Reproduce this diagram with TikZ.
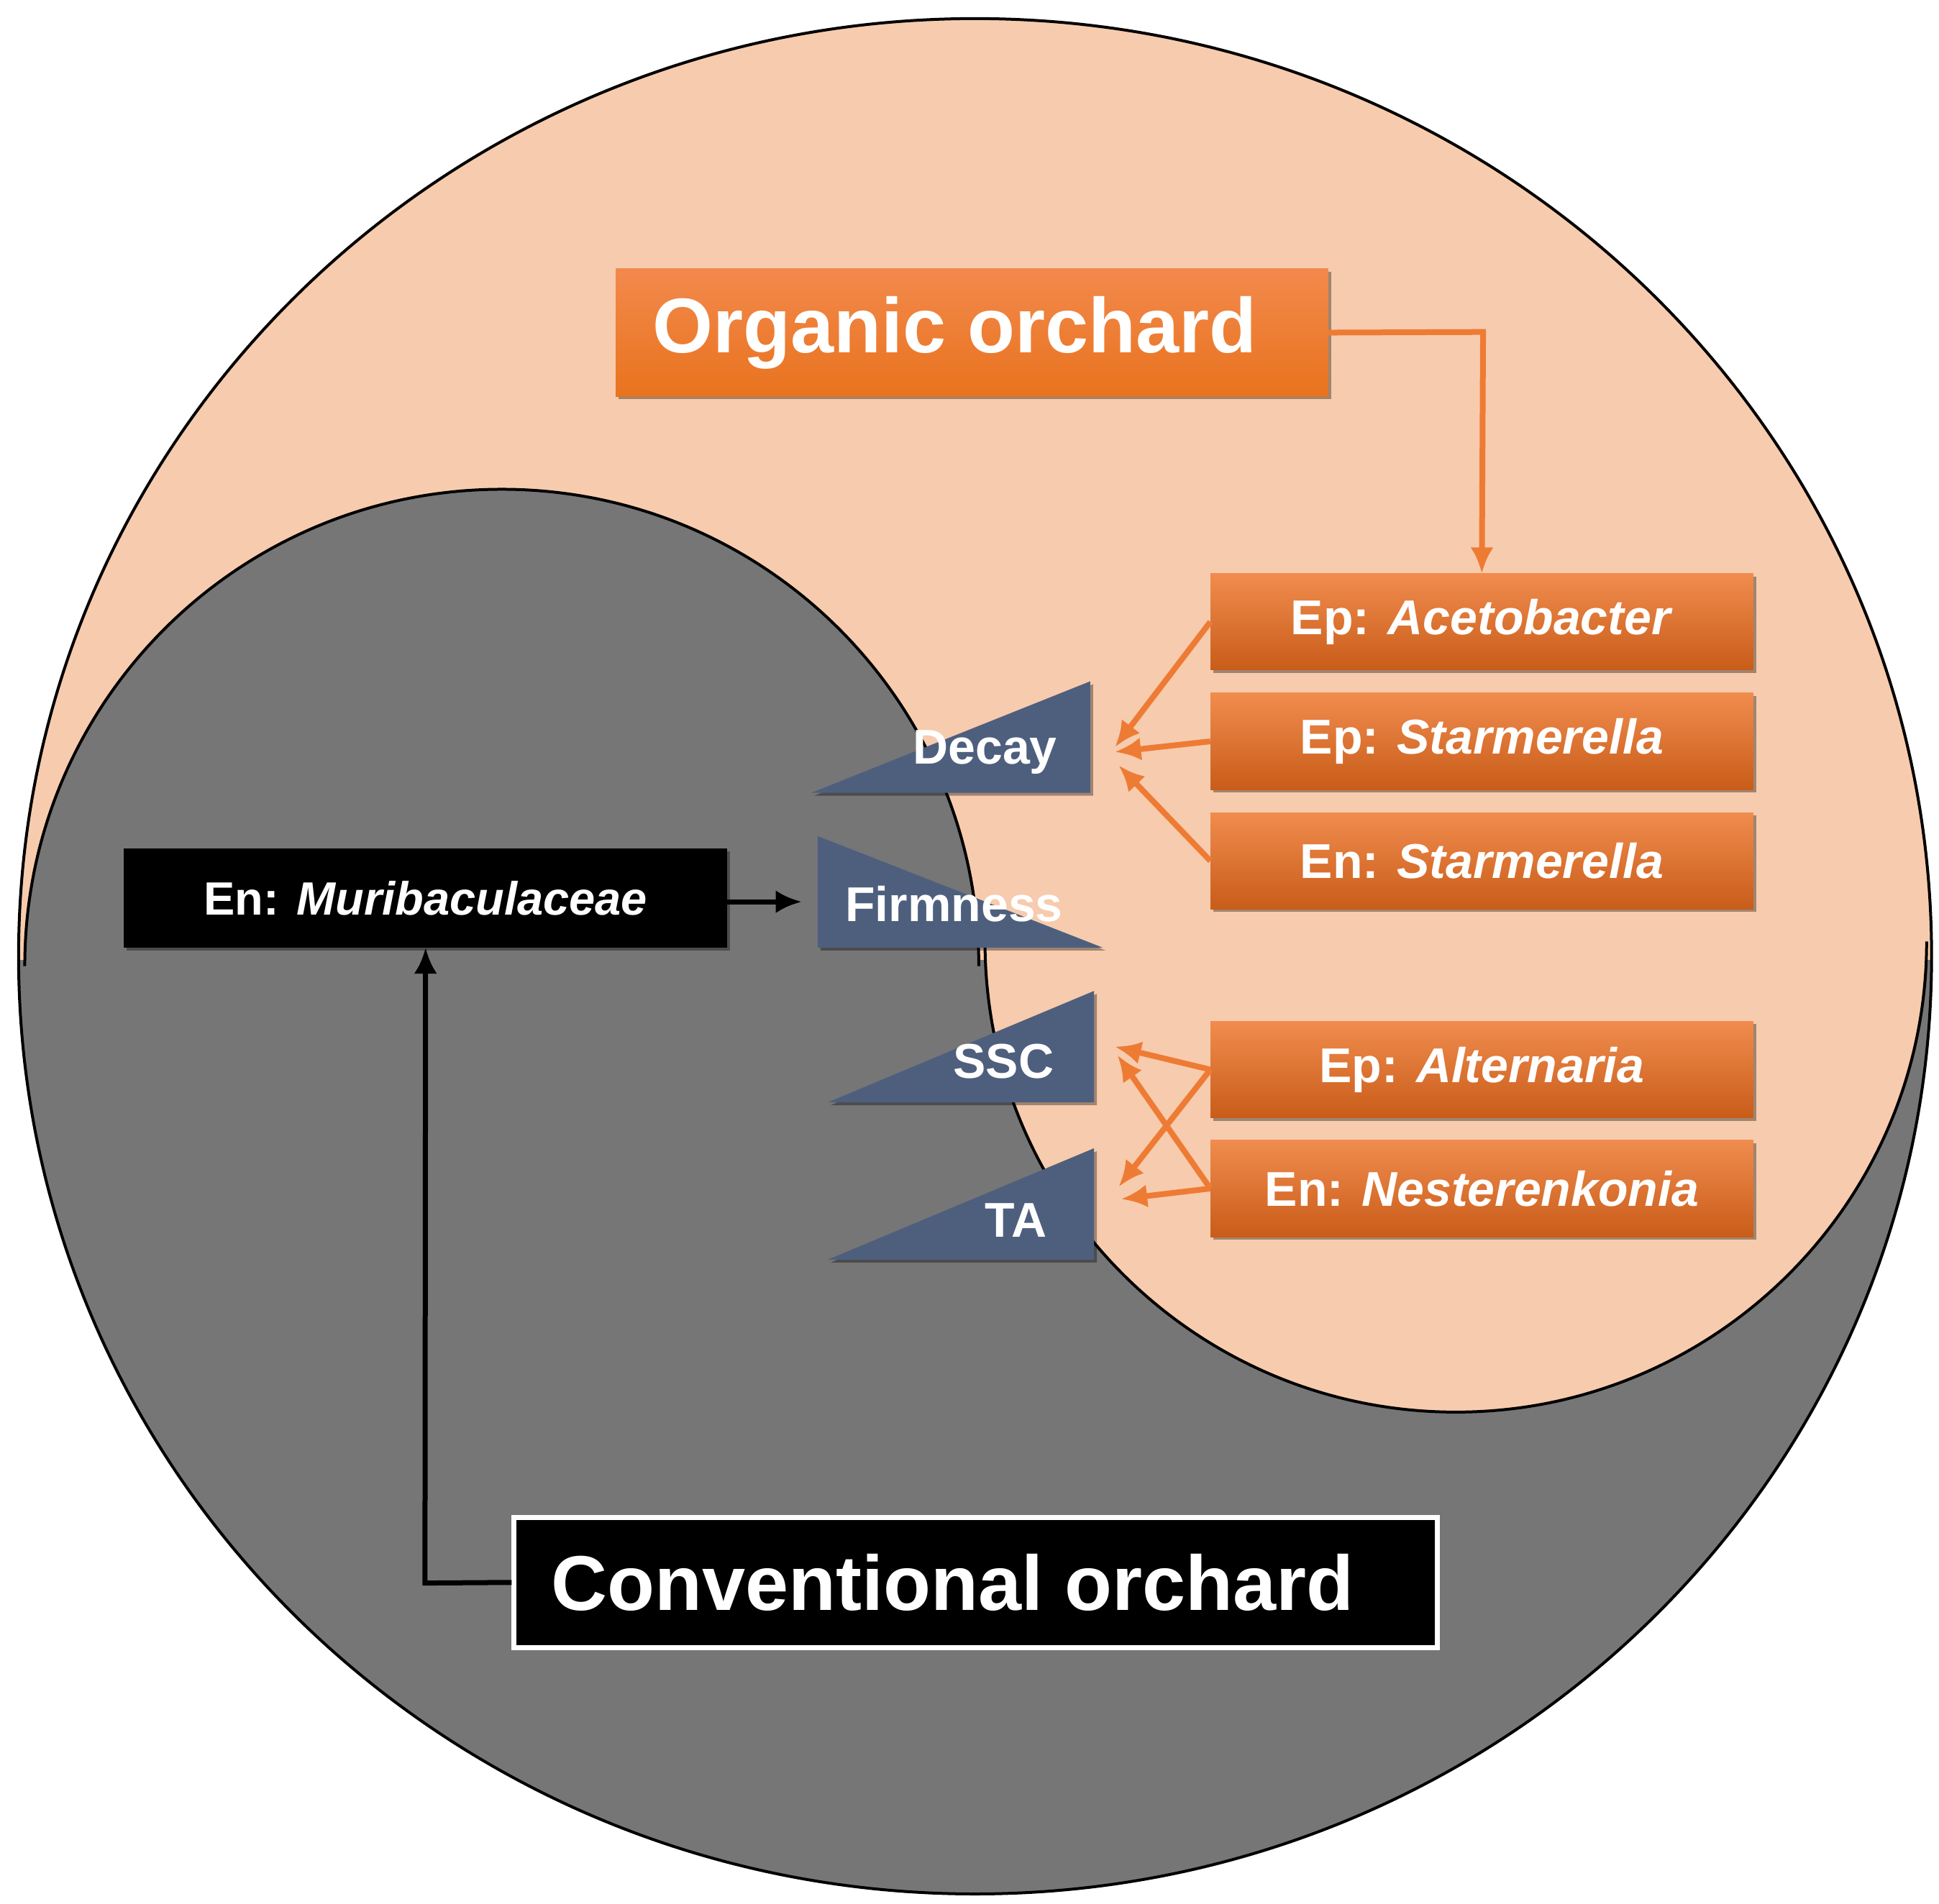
\documentclass[tikz,border=0pt]{standalone}
\usepackage{fontspec}
\setmainfont{Liberation Sans}
\usetikzlibrary{arrows.meta,shadows}
\definecolor{peach}{HTML}{F7CBAD}
\definecolor{gry}{HTML}{767676}
\definecolor{tri}{HTML}{4E5F7E}
\definecolor{orA}{HTML}{F2894C}
\definecolor{orB}{HTML}{E9731E}
\definecolor{orC}{HTML}{F08C4E}
\definecolor{orD}{HTML}{C95C19}
\definecolor{orL}{HTML}{EE7B34}
\tikzset{
 shad/.style={drop shadow={shadow xshift=4pt,shadow yshift=-4pt,opacity=0.35,fill=black}},
 big/.style={font=\fontsize{108}{120}\selectfont\bfseries, text=white, inner sep=0pt, shad},
 sp/.style={minimum width=438*1.723pt, minimum height=78*1.723pt, top color=orC, bottom color=orD, font=\fontsize{68}{74}\selectfont\bfseries, text=white, inner sep=0pt, shad},
 lab/.style={font=\fontsize{68}{74}\selectfont\bfseries, text=white},
 oarr/.style={draw=orL, line width=8pt, -{Latex[length=36pt,width=32pt]}},
 barr/.style={draw=black, line width=7pt, -{Latex[length=36pt,width=32pt]}},
}
\begin{document}
\begin{tikzpicture}[x=1.723pt,y=-1.723pt]
\useasboundingbox (0,0) rectangle (1565,1537);
\begin{scope}
\clip (787,772) ellipse [x radius=772, y radius=757];
\fill[gry] (0,0) rectangle (1565,1537);
\fill[peach] (0,0) rectangle (1565,775);
\fill[gry] (405,780) circle [radius=385];
\fill[peach] (1175,760) circle [radius=380];
\draw[line width=4pt] (20,780) arc [start angle=180, end angle=360, radius=385];
\draw[line width=4pt] (795,760) arc [start angle=180, end angle=0, radius=380];
\end{scope}
\draw[line width=4pt] (787,772) ellipse [x radius=772, y radius=757];

% triangles
\fill[tri,shad] (655,640) -- (880,550) -- (880,640) -- cycle;
\fill[tri,shad] (660,675) -- (660,765) -- (890,765) -- cycle;
\fill[tri,shad] (668,890) -- (883,800) -- (883,890) -- cycle;
\fill[tri,shad] (668,1017) -- (883,927) -- (883,1017) -- cycle;
\node[lab] (decay) at (795,607) {Decay};
\node[lab] (firm) at (770,730) {Firmness};
\node[lab] (ssc) at (810,857) {SSC};
\node[lab] (ta) at (820,985) {TA};

% organic
\node[big, minimum width=575*1.723pt, minimum height=103*1.723pt, top color=orA, bottom color=orB] (org) at (784.5,268.5) {\makebox[515\dimexpr1.723pt][l]{Organic orchard}};
\node[sp] (ace) at (1196,502) {Ep: \textit{Acetobacter}};
\node[sp] (st1) at (1196,598.5) {Ep: \textit{Starmerella}};
\node[sp] (st2) at (1196,695) {En: \textit{Starmerella}};
\node[sp] (alt) at (1196,863.5) {Ep: \textit{Alternaria}};
\node[sp] (nes) at (1196,959.5) {En: \textit{Nesterenkonia}};

\draw[oarr] (org.east) -- (1197,268) -- (ace.north);
\coordinate (d1) at (900,603);
\coordinate (d2) at (900,607);
\coordinate (d3) at (903,618);
\coordinate (s1) at (900,845);
\coordinate (s2) at (902,852);
\coordinate (t1) at (903,958);
\coordinate (t2) at (905,968);
\draw[oarr] (ace.west) -- (d1);
\draw[oarr] (st1.west) -- (d2);
\draw[oarr] (st2.west) -- (d3);
\draw[oarr] (alt.west) -- (s1);
\draw[oarr] (alt.west) -- (t1);
\draw[oarr] (nes.west) -- (s2);
\draw[oarr] (nes.west) -- (t2);

% conventional
\node[fill=black, minimum width=487*1.723pt, minimum height=80*1.723pt, font=\fontsize{65}{72}\selectfont\bfseries, text=white, inner sep=0pt, shad] (mur) at (343.5,725) {En: \textit{Muribaculaceae}};
\coordinate (fm) at (647,728);
\draw[barr] (mur.east |- fm) -- (fm);
\node[big, fill=black, draw=white, line width=7pt, minimum width=745*1.723pt, minimum height=105*1.723pt] (conv) at (787.5,1277.5) {\makebox[685\dimexpr1.723pt][l]{Conventional orchard}};
\draw[barr] (conv.west) -- (343,1278) -- (mur.south);
\end{tikzpicture}
\end{document}
